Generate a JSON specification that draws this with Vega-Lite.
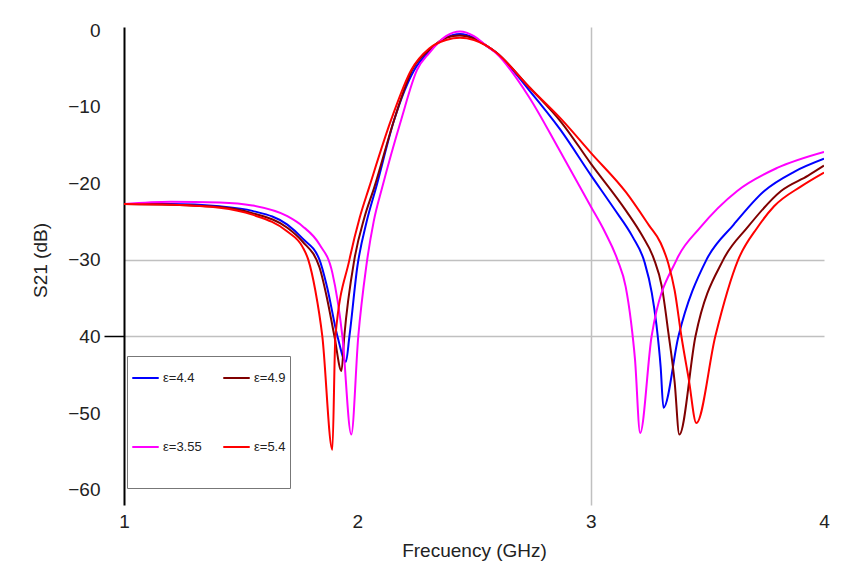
{
 "$schema": "https://vega.github.io/schema/vega-lite/v6.json",
 "width": 700,
 "height": 478,
 "autosize": {"type": "none"},
 "padding": {"left": 124, "top": 27, "right": 31, "bottom": 82},
 "background": "white",
 "config": {"view": {"stroke": null}, "font": "Liberation Sans"},
 "datasets": {
  "s21": [
   {"s": "ε=4.4", "f": 1.0, "db": -22.7}, {"s": "ε=4.4", "f": 1.2, "db": -22.7}, {"s": "ε=4.4", "f": 1.41, "db": -23.0}, {"s": "ε=4.4", "f": 1.55, "db": -23.6}, {"s": "ε=4.4", "f": 1.7, "db": -25.4}, {"s": "ε=4.4", "f": 1.765, "db": -27.2}, {"s": "ε=4.4", "f": 1.838, "db": -30.0}, {"s": "ε=4.4", "f": 1.87, "db": -33.5}, {"s": "ε=4.4", "f": 1.915, "db": -40.0}, {"s": "ε=4.4", "f": 1.951, "db": -43.3}, {"s": "ε=4.4", "f": 1.966, "db": -40.0}, {"s": "ε=4.4", "f": 2.0, "db": -30.9}, {"s": "ε=4.4", "f": 2.04, "db": -25.0}, {"s": "ε=4.4", "f": 2.081, "db": -20.5}, {"s": "ε=4.4", "f": 2.158, "db": -11.7}, {"s": "ε=4.4", "f": 2.244, "db": -5.2}, {"s": "ε=4.4", "f": 2.308, "db": -2.8}, {"s": "ε=4.4", "f": 2.38, "db": -1.0}, {"s": "ε=4.4", "f": 2.44, "db": -0.5}, {"s": "ε=4.4", "f": 2.5, "db": -1.0}, {"s": "ε=4.4", "f": 2.551, "db": -2.0}, {"s": "ε=4.4", "f": 2.594, "db": -2.9}, {"s": "ε=4.4", "f": 2.735, "db": -7.8}, {"s": "ε=4.4", "f": 2.87, "db": -13.0}, {"s": "ε=4.4", "f": 3.0, "db": -18.9}, {"s": "ε=4.4", "f": 3.1, "db": -23.3}, {"s": "ε=4.4", "f": 3.18, "db": -27.0}, {"s": "ε=4.4", "f": 3.231, "db": -30.3}, {"s": "ε=4.4", "f": 3.262, "db": -34.3}, {"s": "ε=4.4", "f": 3.282, "db": -38.5}, {"s": "ε=4.4", "f": 3.3, "db": -44.0}, {"s": "ε=4.4", "f": 3.312, "db": -49.3}, {"s": "ε=4.4", "f": 3.376, "db": -40.0}, {"s": "ε=4.4", "f": 3.496, "db": -30.0}, {"s": "ε=4.4", "f": 3.613, "db": -25.4}, {"s": "ε=4.4", "f": 3.744, "db": -21.0}, {"s": "ε=4.4", "f": 3.872, "db": -18.5}, {"s": "ε=4.4", "f": 4.0, "db": -16.8},
   {"s": "ε=4.9", "f": 1.0, "db": -22.7}, {"s": "ε=4.9", "f": 1.2, "db": -22.8}, {"s": "ε=4.9", "f": 1.41, "db": -23.1}, {"s": "ε=4.9", "f": 1.55, "db": -23.9}, {"s": "ε=4.9", "f": 1.7, "db": -25.8}, {"s": "ε=4.9", "f": 1.765, "db": -27.6}, {"s": "ε=4.9", "f": 1.838, "db": -31.0}, {"s": "ε=4.9", "f": 1.87, "db": -35.0}, {"s": "ε=4.9", "f": 1.902, "db": -40.0}, {"s": "ε=4.9", "f": 1.932, "db": -44.5}, {"s": "ε=4.9", "f": 1.944, "db": -40.0}, {"s": "ε=4.9", "f": 1.987, "db": -30.0}, {"s": "ε=4.9", "f": 2.03, "db": -24.5}, {"s": "ε=4.9", "f": 2.073, "db": -20.5}, {"s": "ε=4.9", "f": 2.158, "db": -11.7}, {"s": "ε=4.9", "f": 2.235, "db": -5.2}, {"s": "ε=4.9", "f": 2.308, "db": -2.6}, {"s": "ε=4.9", "f": 2.38, "db": -1.0}, {"s": "ε=4.9", "f": 2.44, "db": -0.7}, {"s": "ε=4.9", "f": 2.5, "db": -1.1}, {"s": "ε=4.9", "f": 2.551, "db": -2.0}, {"s": "ε=4.9", "f": 2.594, "db": -2.9}, {"s": "ε=4.9", "f": 2.735, "db": -7.4}, {"s": "ε=4.9", "f": 2.876, "db": -12.1}, {"s": "ε=4.9", "f": 3.0, "db": -17.4}, {"s": "ε=4.9", "f": 3.152, "db": -23.6}, {"s": "ε=4.9", "f": 3.22, "db": -26.8}, {"s": "ε=4.9", "f": 3.27, "db": -29.8}, {"s": "ε=4.9", "f": 3.305, "db": -33.5}, {"s": "ε=4.9", "f": 3.333, "db": -39.5}, {"s": "ε=4.9", "f": 3.36, "db": -46.0}, {"s": "ε=4.9", "f": 3.38, "db": -52.8}, {"s": "ε=4.9", "f": 3.449, "db": -40.0}, {"s": "ε=4.9", "f": 3.568, "db": -30.0}, {"s": "ε=4.9", "f": 3.671, "db": -25.8}, {"s": "ε=4.9", "f": 3.816, "db": -21.0}, {"s": "ε=4.9", "f": 3.932, "db": -19.0}, {"s": "ε=4.9", "f": 4.0, "db": -17.7},
   {"s": "ε=3.55", "f": 1.0, "db": -22.7}, {"s": "ε=3.55", "f": 1.2, "db": -22.4}, {"s": "ε=3.55", "f": 1.41, "db": -22.5}, {"s": "ε=3.55", "f": 1.55, "db": -22.9}, {"s": "ε=3.55", "f": 1.7, "db": -24.3}, {"s": "ε=3.55", "f": 1.765, "db": -25.6}, {"s": "ε=3.55", "f": 1.838, "db": -28.0}, {"s": "ε=3.55", "f": 1.893, "db": -31.7}, {"s": "ε=3.55", "f": 1.936, "db": -40.0}, {"s": "ε=3.55", "f": 1.974, "db": -52.8}, {"s": "ε=3.55", "f": 2.004, "db": -40.0}, {"s": "ε=3.55", "f": 2.038, "db": -30.9}, {"s": "ε=3.55", "f": 2.07, "db": -25.0}, {"s": "ε=3.55", "f": 2.107, "db": -20.5}, {"s": "ε=3.55", "f": 2.188, "db": -11.7}, {"s": "ε=3.55", "f": 2.256, "db": -5.2}, {"s": "ε=3.55", "f": 2.308, "db": -3.0}, {"s": "ε=3.55", "f": 2.38, "db": -0.8}, {"s": "ε=3.55", "f": 2.44, "db": -0.2}, {"s": "ε=3.55", "f": 2.5, "db": -0.8}, {"s": "ε=3.55", "f": 2.551, "db": -2.0}, {"s": "ε=3.55", "f": 2.594, "db": -3.0}, {"s": "ε=3.55", "f": 2.735, "db": -8.7}, {"s": "ε=3.55", "f": 2.863, "db": -15.5}, {"s": "ε=3.55", "f": 3.0, "db": -23.0}, {"s": "ε=3.55", "f": 3.06, "db": -26.3}, {"s": "ε=3.55", "f": 3.115, "db": -30.0}, {"s": "ε=3.55", "f": 3.15, "db": -33.5}, {"s": "ε=3.55", "f": 3.173, "db": -38.1}, {"s": "ε=3.55", "f": 3.19, "db": -43.0}, {"s": "ε=3.55", "f": 3.212, "db": -52.6}, {"s": "ε=3.55", "f": 3.261, "db": -40.0}, {"s": "ε=3.55", "f": 3.368, "db": -30.0}, {"s": "ε=3.55", "f": 3.469, "db": -25.8}, {"s": "ε=3.55", "f": 3.628, "db": -21.0}, {"s": "ε=3.55", "f": 3.799, "db": -18.0}, {"s": "ε=3.55", "f": 4.0, "db": -15.9},
   {"s": "ε=5.4", "f": 1.0, "db": -22.7}, {"s": "ε=5.4", "f": 1.2, "db": -22.8}, {"s": "ε=5.4", "f": 1.41, "db": -23.2}, {"s": "ε=5.4", "f": 1.55, "db": -24.1}, {"s": "ε=5.4", "f": 1.7, "db": -26.3}, {"s": "ε=5.4", "f": 1.765, "db": -28.3}, {"s": "ε=5.4", "f": 1.79, "db": -30.0}, {"s": "ε=5.4", "f": 1.82, "db": -34.0}, {"s": "ε=5.4", "f": 1.85, "db": -40.0}, {"s": "ε=5.4", "f": 1.893, "db": -54.8}, {"s": "ε=5.4", "f": 1.906, "db": -40.0}, {"s": "ε=5.4", "f": 1.966, "db": -30.0}, {"s": "ε=5.4", "f": 2.01, "db": -24.5}, {"s": "ε=5.4", "f": 2.051, "db": -20.5}, {"s": "ε=5.4", "f": 2.145, "db": -11.7}, {"s": "ε=5.4", "f": 2.231, "db": -5.2}, {"s": "ε=5.4", "f": 2.308, "db": -2.4}, {"s": "ε=5.4", "f": 2.38, "db": -1.3}, {"s": "ε=5.4", "f": 2.44, "db": -1.0}, {"s": "ε=5.4", "f": 2.5, "db": -1.3}, {"s": "ε=5.4", "f": 2.551, "db": -2.0}, {"s": "ε=5.4", "f": 2.594, "db": -2.9}, {"s": "ε=5.4", "f": 2.735, "db": -7.4}, {"s": "ε=5.4", "f": 2.876, "db": -11.7}, {"s": "ε=5.4", "f": 3.0, "db": -16.0}, {"s": "ε=5.4", "f": 3.152, "db": -21.2}, {"s": "ε=5.4", "f": 3.25, "db": -25.5}, {"s": "ε=5.4", "f": 3.3, "db": -27.8}, {"s": "ε=5.4", "f": 3.333, "db": -30.5}, {"s": "ε=5.4", "f": 3.36, "db": -34.0}, {"s": "ε=5.4", "f": 3.389, "db": -40.0}, {"s": "ε=5.4", "f": 3.42, "db": -45.5}, {"s": "ε=5.4", "f": 3.453, "db": -51.3}, {"s": "ε=5.4", "f": 3.534, "db": -40.0}, {"s": "ε=5.4", "f": 3.632, "db": -30.0}, {"s": "ε=5.4", "f": 3.714, "db": -25.8}, {"s": "ε=5.4", "f": 3.786, "db": -23.0}, {"s": "ε=5.4", "f": 3.902, "db": -20.4}, {"s": "ε=5.4", "f": 4.0, "db": -18.6}
  ]
 },
 "data": {"name": "s21"},
 "mark": {"type": "line", "strokeWidth": 2, "clip": true, "interpolate": "monotone"},
 "encoding": {
  "x": {
   "field": "f", "type": "quantitative",
   "scale": {"domain": [1, 4], "nice": false, "zero": false},
   "axis": {
    "title": "Frecuency (GHz)", "values": [1, 2, 3, 4], "format": "d",
    "domain": false, "ticks": false, "labelFlush": false, "labelPadding": 7,
    "labelFontSize": 19, "labelColor": "#222", "labelFont": "Liberation Sans",
    "titleFontSize": 19, "titleFontWeight": "normal", "titleColor": "#222", "titleFont": "Liberation Sans",
    "titleY": 45, "titleBaseline": "middle",
    "grid": true, "gridColor": "#c0c0c0", "gridWidth": 1.5,
    "gridOpacity": {"condition": {"test": "datum.value == 3", "value": 1}, "value": 0}
   }
  },
  "y": {
   "field": "db", "type": "quantitative",
   "scale": {"domain": [-62, 0.4], "nice": false, "zero": false},
   "axis": {
    "title": "S21 (dB)", "values": [0, -10, -20, -30, -40, -50, -60],
    "labelExpr": "datum.value == -40 ? '40' : datum.label",
    "domain": true, "domainColor": "#000", "domainWidth": 2,
    "ticks": true, "tickSize": 20, "tickColor": "#000", "tickWidth": 1.5,
    "tickOpacity": {"condition": {"test": "datum.value == -40", "value": 1}, "value": 0},
    "labelPadding": 4, "labelFontSize": 19, "labelColor": "#222", "labelFont": "Liberation Sans",
    "titleFontSize": 19, "titleFontWeight": "normal", "titleColor": "#222", "titleFont": "Liberation Sans",
    "titleX": -84, "titleY": 233, "titleAlign": "center", "titleBaseline": "middle", "titleAngle": -90,
    "grid": true, "gridColor": "#c0c0c0", "gridWidth": 1.5,
    "gridOpacity": {"condition": {"test": "datum.value == -30 || datum.value == -40", "value": 1}, "value": 0}
   }
  },
  "color": {
   "field": "s", "type": "nominal",
   "scale": {"domain": ["ε=4.4", "ε=4.9", "ε=3.55", "ε=5.4"], "range": ["#0000ff", "#800000", "#ff00ff", "#ff0000"]},
   "legend": {
    "orient": "none", "legendX": 3, "legendY": 329, "columns": 2, "direction": "horizontal",
    "title": " ", "titleOrient": "bottom", "titleFontSize": 14, "titlePadding": 5,
    "symbolType": "stroke", "symbolSize": 700, "symbolStrokeWidth": 2,
    "labelFontSize": 13, "labelFont": "Liberation Sans", "labelColor": "#222", "labelOffset": 3,
    "clipHeight": 36, "rowPadding": 33, "columnPadding": 20, "padding": 4,
    "fillColor": "white", "strokeColor": "#777"
   }
  }
 }
}
